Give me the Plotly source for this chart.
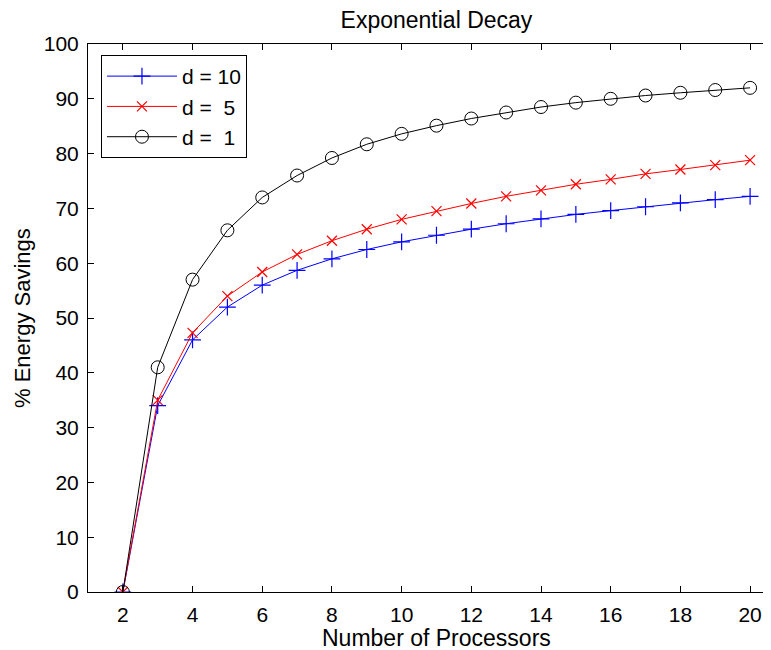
import plotly.graph_objects as go

processors = list(range(2, 21))
d10 = [0, 34, 46, 52, 56, 58.7, 60.8, 62.5, 63.9, 65.1, 66.2, 67.2, 68.1, 68.9, 69.6, 70.3, 71.0, 71.6, 72.2]
d5 = [0, 35, 47.3, 54, 58.4, 61.6, 64.1, 66.2, 68.0, 69.5, 70.9, 72.2, 73.3, 74.4, 75.3, 76.3, 77.1, 77.9, 78.8]
d1 = [0, 41, 57, 66, 72, 76, 79.2, 81.7, 83.6, 85.1, 86.4, 87.5, 88.5, 89.3, 90.0, 90.6, 91.1, 91.6, 92.0]
x_ticks = list(range(2, 21, 2))
y_ticks = list(range(0, 101, 10))

X_MIN, X_MAX_FULL, X_MAX_VIEW = 1, 21, 20.6
x_center = (X_MIN + X_MAX_FULL) / 2

fig = go.Figure()
fig.add_trace(go.Scatter(x=processors, y=d10, mode="lines+markers", name="d = 10",
                         line=dict(color="#0000ff", width=1),
                         marker=dict(symbol="cross-thin-open", size=12, line=dict(color="#0000ff", width=1.2))))
fig.add_trace(go.Scatter(x=processors, y=d5, mode="lines+markers", name="d =  5",
                         line=dict(color="#ff0000", width=1),
                         marker=dict(symbol="x-thin-open", size=10, line=dict(color="#ff0000", width=1.2))))
fig.add_trace(go.Scatter(x=processors, y=d1, mode="lines+markers", name="d =  1",
                         line=dict(color="#000000", width=1),
                         marker=dict(symbol="circle-open", size=13, color="#000000", line=dict(color="#000000", width=1))))

font = "Liberation Sans, Arial, sans-serif"
fig.update_layout(
    width=763, height=642,
    margin=dict(l=80, r=0, t=36, b=58),
    paper_bgcolor="white", plot_bgcolor="white",
    font=dict(family=font, size=21, color="black"),
    title=dict(text="Exponential Decay", x=(x_center - X_MIN) / (X_MAX_VIEW - X_MIN), xanchor="center",
               xref="paper", yref="container", y=1 - 12 / 642, yanchor="middle", font=dict(size=23)),
    showlegend=True,
    legend=dict(x=0.019, y=0.98, xanchor="left", yanchor="top", bordercolor="black", borderwidth=1,
                bgcolor="white", font=dict(size=21), itemwidth=70, tracegroupgap=0),
    xaxis=dict(range=[X_MIN, X_MAX_VIEW], tickvals=x_ticks, ticks="inside", ticklen=6, tickcolor="black",
               ticklabelstandoff=4,
               showline=True, linecolor="black", linewidth=1, mirror="ticks", showgrid=False, zeroline=False),
    yaxis=dict(range=[0, 100], tickvals=y_ticks, ticks="inside", ticklen=6, tickcolor="black",
               ticklabelstandoff=4,
               showline=True, linecolor="black", linewidth=1, mirror=False, showgrid=False, zeroline=False),
    annotations=[
        dict(text="Number of Processors", x=x_center, xref="x", y=-46 / 548, yref="paper",
             xanchor="center", yanchor="middle", showarrow=False, font=dict(size=23)),
        dict(text="% Energy Savings", x=-66 / 683, xref="paper", y=0.5, yref="paper", textangle=-90,
             xanchor="center", yanchor="middle", showarrow=False, font=dict(size=22)),
    ],
)
fig.write_html("out.html")
